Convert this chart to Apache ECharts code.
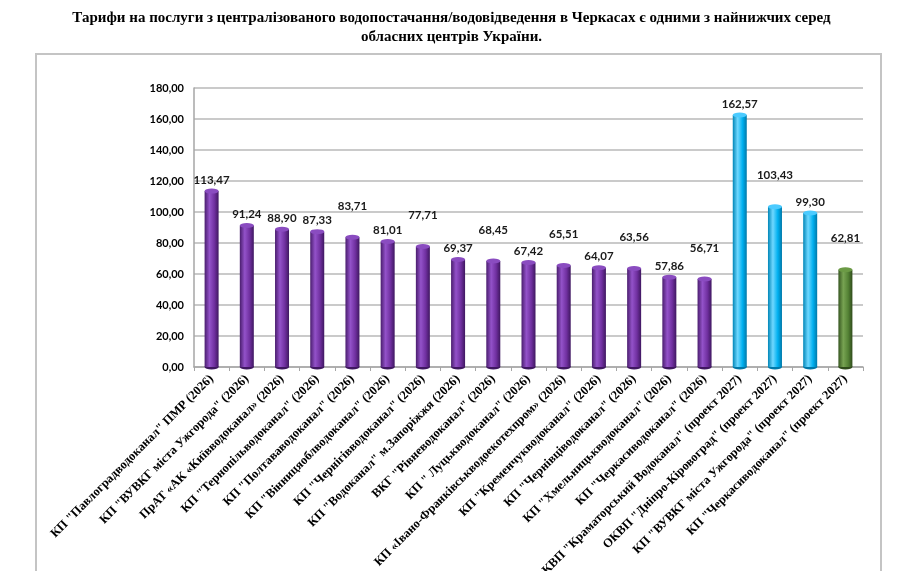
<!DOCTYPE html>
<html>
<head>
<meta charset="utf-8">
<script src="https://cdn.jsdelivr.net/npm/echarts@6/dist/echarts.min.js"></script>
<style>
  html, body { margin: 0; padding: 0; background: #ffffff; }
  #chart { width: 903px; height: 571px; }
</style>
</head>
<body>
<div id="chart"></div>
<script>
// тарифи, грн/м3
const categories = [
  'КП "Павлоградводоканал" ПМР (2026)',
  'КП "ВУВКГ міста Ужгорода" (2026)',
  'ПрАТ «АК «Київводоканал» (2026)',
  'КП "Тернопільводоканал" (2026)',
  'КП "Полтававодоканал" (2026)',
  'КП "Вінницяоблводоканал" (2026)',
  'КП "Чернігівводоканал" (2026)',
  'КП "Водоканал" м.Запоріжжя (2026)',
  'ВКГ "Рівневодоканал" (2026)',
  'КП " Луцькводоканал" (2026)',
  'КП «Івано-Франківськводоекотехпром» (2026)',
  'КП "Кременчукводоканал" (2026)',
  'КП "Чернівціводоканал" (2026)',
  'КП "Хмельницькводоканал" (2026)',
  'КП "Черкасиводоканал" (2026)',
  'КВП "Краматорський Водоканал" (проект 2027)',
  'ОКВП "Дніпро-Кіровоград" (проект 2027)',
  'КП "ВУВКГ міста Ужгорода" (проект 2027)',
  'КП "Черкасиводоканал" (проект 2027)'
];
const tariffs = [113.47, 91.24, 88.90, 87.33, 83.71, 81.01, 77.71, 69.37, 68.45, 67.42,
  65.51, 64.07, 63.56, 57.86, 56.71, 162.57, 103.43, 99.30, 62.81];
const yTicks = [0, 20, 40, 60, 80, 100, 120, 140, 160, 180];

const palette = {
  purple: ['#4a1d6e', '#9352c9', '#7030a0', '#3f1760', '#8a4cc0'],
  blue: ['#0086b8', '#6fd8ff', '#00b0f0', '#0078a8', '#4ccbff'],
  green: ['#365620', '#77a352', '#548235', '#2f4b1b', '#6b9a45']
};

function kindOf(name) {
  if (name.indexOf('проект') < 0) return 'purple';
  return name.indexOf('Черкаси') >= 0 ? 'green' : 'blue';
}

function cylinder(p) {
  return new echarts.graphic.LinearGradient(0, 0, 1, 0, [
    { offset: 0, color: p[0] },
    { offset: 0.35, color: p[1] },
    { offset: 0.7, color: p[2] },
    { offset: 1, color: p[3] }
  ]);
}

const fmt = (v) => v.toFixed(2).replace('.', ',');

const barData = tariffs.map((v, i) => {
  const p = palette[kindOf(categories[i])];
  return {
    value: v,
    itemStyle: { color: cylinder(p) },
    label: { offset: [0, i >= 4 && i % 2 === 0 ? -20 : 0] }
  };
});
const capData = tariffs.map((v, i) => ({
  value: v,
  itemStyle: { color: palette[kindOf(categories[i])][4] }
}));
const baseData = tariffs.map((v, i) => ({
  value: v,
  itemStyle: { color: palette[kindOf(categories[i])][3] }
}));

const chart = echarts.init(document.getElementById('chart'));

chart.setOption({
  backgroundColor: '#ffffff',
  animation: false,
  title: {
    text: 'Тарифи на послуги з централізованого водопостачання/водовідведення в Черкасах є одними з найнижчих серед\nобласних центрів України.',
    left: 'center',
    top: 4,
    textStyle: {
      fontFamily: 'Liberation Serif',
      fontWeight: 'bold',
      fontSize: 15,
      lineHeight: 19,
      color: '#000000'
    }
  },
  graphic: [
    {
      type: 'rect',
      shape: { x: 36, y: 54, width: 845, height: 560 },
      style: { fill: 'none', stroke: '#c4c4c4', lineWidth: 2 },
      silent: true
    }
  ],
  grid: { left: 194, right: 40, top: 88, bottom: 204, outerBoundsMode: 'none', containLabel: false },
  xAxis: {
    type: 'category',
    data: categories,
    axisLine: { lineStyle: { color: '#a6a6a6', width: 1.5 } },
    axisTick: { show: true, length: 4, alignWithLabel: false, lineStyle: { color: '#a6a6a6' } },
    axisLabel: {
      interval: 0,
      rotate: 45,
      margin: 10,
      fontFamily: 'Liberation Serif',
      fontWeight: 'bold',
      fontSize: 12.5,
      color: '#000000'
    }
  },
  yAxis: {
    type: 'value',
    min: yTicks[0],
    max: yTicks[yTicks.length - 1],
    interval: yTicks[1] - yTicks[0],
    axisLine: { show: true, lineStyle: { color: '#a6a6a6', width: 1.5 } },
    axisTick: { show: false },
    splitLine: { lineStyle: { color: '#b8b8b8', width: 1.5 } },
    axisLabel: {
      margin: 10,
      fontFamily: 'Lato',
      fontWeight: 'bold',
      fontSize: 11,
      color: '#000000',
      formatter: fmt
    }
  },
  series: [
    {
      type: 'bar',
      data: barData,
      barWidth: 14,
      z: 2,
      label: {
        show: true,
        position: 'top',
        distance: 5,
        fontFamily: 'Lato',
        fontWeight: 'bold',
        fontSize: 11.5,
        color: '#1a1a1a',
        formatter: (p) => fmt(p.value)
      }
    },
    {
      type: 'pictorialBar',
      data: baseData,
      symbol: 'circle',
      symbolSize: [14, 5],
      symbolPosition: 'start',
      symbolOffset: [0, '50%'],
      z: 1
    },
    {
      type: 'pictorialBar',
      data: capData,
      symbol: 'circle',
      symbolSize: [14, 5],
      symbolPosition: 'end',
      symbolOffset: [0, '-50%'],
      z: 3
    }
  ]
});
</script>
</body>
</html>
